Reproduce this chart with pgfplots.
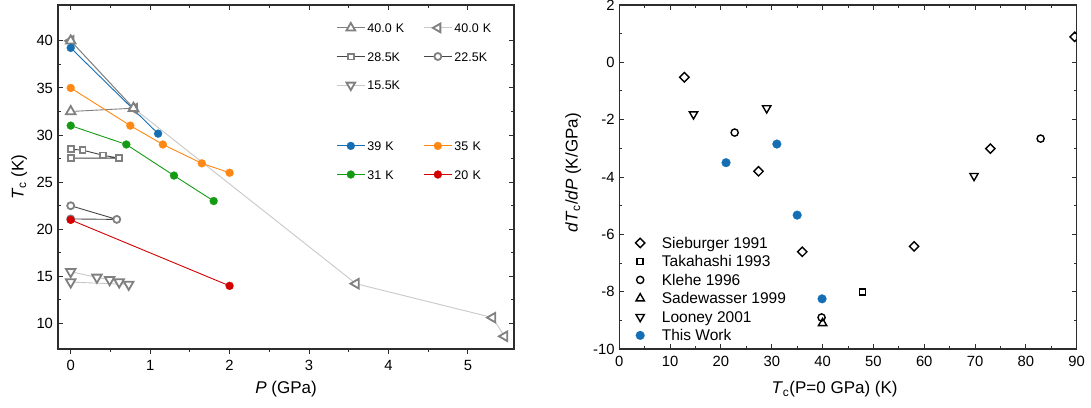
\documentclass[border=0pt]{standalone}
\usepackage{pgfplots}
\pgfplotsset{compat=1.18}
\usepackage{fontspec}
\setmainfont{Liberation Sans}

\definecolor{cblue}{RGB}{20,110,180}
\definecolor{corange}{RGB}{255,136,20}
\definecolor{cgreen}{RGB}{20,155,20}
\definecolor{cred}{RGB}{210,0,0}
\definecolor{mgrey}{RGB}{128,128,128}
\definecolor{lgrey}{RGB}{200,200,200}
\definecolor{dgrey}{RGB}{70,70,70}
\definecolor{axcol}{RGB}{45,45,45}

\newcommand{\Tc}{\textit{T}\textsubscript{c}}

\pgfplotsset{
  panel/.style={
    scale only axis, height=344pt,
    axis line style={axcol, line width=1.1pt},
    tick style={axcol, line width=1pt},
    major tick length=5pt, minor tick length=3pt,
    ticklabel style={font=\fontsize{14.8}{17}\selectfont},
    /pgf/number format/assume math mode=true,
    label style={font=\fontsize{17}{20}\selectfont},
  },
  leftlim/.style={
    width=456pt, at={(58pt,58pt)}, anchor=south west,
    xmin=-0.16, xmax=5.58, ymin=7.3, ymax=43.8,
    xtick={0,...,5}, ytick={10,15,...,40},
  },
  tickonly/.style={xticklabels={,,,,,}, yticklabels={,,,,,,}, axis line style={draw=none}},
  % open grey markers of the literature series (argument: rotation)
  gmk/.style={mark options={solid, draw=mgrey, fill=white, line width=1.8pt, rotate=#1}},
  gmk/.default=0,
  % filled markers of the measured series
  cmk/.style={mark=*, mark size=4pt, mark options={solid, fill=#1, draw=#1, line width=0.2pt}},
  % open black markers of the right panel (argument: rotation)
  bmk/.style={only marks, mark options={solid, draw=black, fill=white, line width=1.4pt, rotate=#1}},
  bmk/.default=0,
}

\begin{document}
\begin{tikzpicture}
\useasboundingbox (0,0) rectangle (1091pt,407pt);

% ---------- left panel: Tc versus pressure ----------
% inward ticks on top, left and right
\begin{axis}[panel, leftlim, tickonly,
  minor x tick num=1, minor y tick num=1,
  tick align=inside, xtick pos=top, ytick pos=both]
\end{axis}
% outward ticks at the bottom
\begin{axis}[panel, leftlim, tickonly,
  minor x tick num=1, ytick=\empty,
  tick align=outside, xtick pos=bottom]
\end{axis}

\begin{axis}[panel, leftlim,
  major tick length=0pt, minor tick length=0pt,
  xticklabel style={yshift=-7.6pt}, yticklabel style={xshift=-1.5pt},
  xlabel={\textit{P} (GPa)}, ylabel={\Tc{} (K)},
  xlabel style={at={(axis description cs:0.5,-0.1163)}, anchor=center},
  ylabel style={at={(axis description cs:-0.085,0.5)}, anchor=center},
  legend columns=2, legend cell align=left,
  legend style={at={(0.610,0.9558)}, anchor=north west, draw=none, fill=none,
    inner sep=0pt, row sep=13.6pt, column sep=0pt,
    font=\fontsize{12.5}{14}\selectfont,
    nodes={inner sep=0pt, text height=12pt, text depth=3pt, text width=56pt}},
  legend image code/.code={%
    \draw[#1, mark repeat=2, mark phase=2] plot coordinates {(0pt,0pt) (14pt,0pt) (28pt,0pt)};
    \path[draw=none, fill=none] (0pt,-7.5pt) rectangle (30.6pt,7.5pt);},
]
% literature series
\addplot[lgrey, line width=0.9pt, mark=triangle*, mark size=5.5pt, gmk=90, forget plot]
  coordinates {(0,40.0) (0.80,32.8) (3.59,14.23) (5.31,10.63) (5.46,8.65)};
\addplot[mgrey, line width=0.9pt, mark=triangle*, mark size=5.5pt, gmk, forget plot]
  coordinates {(0,40.0) (0.79,32.85) (0,32.5)};
\addplot[dgrey, line width=0.9pt, mark=square*, mark size=2.9pt, gmk, forget plot]
  coordinates {(0,28.5) (0.15,28.4) (0.41,27.85) (0.61,27.55) (0,27.55)};
\addplot[dgrey, line width=0.9pt, mark=*, mark size=3.5pt, gmk, forget plot]
  coordinates {(0,22.5) (0.58,21.05) (0,21.1)};
\addplot[lgrey, line width=0.9pt, mark=triangle*, mark size=5.5pt, gmk=180, forget plot]
  coordinates {(0,15.5) (0.33,14.9) (0.49,14.65) (0.61,14.4) (0.73,14.15) (0,14.4)};
% measured series
\addplot[cblue, line width=0.9pt, cmk=cblue, forget plot]
  coordinates {(0,39.25) (1.10,30.15)};
\addplot[corange, line width=0.9pt, cmk=corange, forget plot]
  coordinates {(0,35.0) (0.75,31.0) (1.16,29.0) (1.65,27.0) (2.0,26.0)};
\addplot[cgreen, line width=0.9pt, cmk=cgreen, forget plot]
  coordinates {(0,31.0) (0.70,29.0) (1.30,25.7) (1.80,23.0)};
\addplot[cred, line width=0.9pt, cmk=cred, forget plot]
  coordinates {(0,21.0) (2.0,14.0)};

\addlegendimage{mgrey, line width=0.9pt, mark=triangle*, mark size=5pt, gmk}
\addlegendentry{40.0 K}
\addlegendimage{lgrey, line width=0.9pt, mark=triangle*, mark size=5pt, gmk=90}
\addlegendentry{40.0 K}
\addlegendimage{dgrey, line width=0.9pt, mark=square*, mark size=2.9pt, gmk}
\addlegendentry{28.5K}
\addlegendimage{dgrey, line width=0.9pt, mark=*, mark size=3.5pt, gmk}
\addlegendentry{22.5K}
\addlegendimage{lgrey, line width=0.9pt, mark=triangle*, mark size=5pt, gmk=180}
\addlegendentry{15.5K}
\addlegendimage{empty legend}\addlegendentry{\mbox{}}
% spacer row between the two groups of entries
\addlegendimage{empty legend}\addlegendentry[text depth=6.6pt]{\mbox{}}
\addlegendimage{empty legend}\addlegendentry[text depth=6.6pt]{\mbox{}}
\addlegendimage{cblue, line width=0.9pt, cmk=cblue}
\addlegendentry{39 K}
\addlegendimage{corange, line width=0.9pt, cmk=corange}
\addlegendentry{35 K}
\addlegendimage{cgreen, line width=0.9pt, cmk=cgreen}
\addlegendentry{31 K}
\addlegendimage{cred, line width=0.9pt, cmk=cred}
\addlegendentry{20 K}
\end{axis}

% ---------- right panel: dTc/dP versus Tc ----------
\begin{axis}[panel, width=457.4pt, at={(619.3pt,58pt)}, anchor=south west,
  xmin=0, xmax=90, ymin=-10, ymax=2,
  xtick={0,10,...,90}, ytick={-10,-8,...,2},
  minor x tick num=1, minor y tick num=1,
  tick align=inside,
  clip marker paths=true,
  xticklabel style={yshift=-3.7pt}, yticklabel style={xshift=-1.2pt},
  xlabel={\Tc(P=0 GPa) (K)}, ylabel={\textit{d}\Tc/\textit{dP} (K/GPa)},
  xlabel style={at={(axis description cs:0.4707,-0.1163)}, anchor=center},
  ylabel style={at={(axis description cs:-0.101,0.5116)}, anchor=center},
  legend cell align=left,
  legend style={at={(0.0343,0.3308)}, anchor=north west, draw=none, fill=none,
    inner sep=0pt, row sep=3.5pt,
    font=\fontsize{15.5}{18}\selectfont,
    nodes={inner sep=0pt, text height=13.05pt, text depth=1.95pt}},
  legend image code/.code={%
    \draw[#1] plot coordinates {(5pt,0pt)};
    \path[draw=none, fill=none] (0pt,-7.5pt) rectangle (26.7pt,7.5pt);},
]
\addplot[bmk=45, mark=square, mark size=3.3pt]
  coordinates {(12.8,-0.52) (27.4,-3.80) (36.0,-6.61) (58.0,-6.42) (73.0,-3.01) (89.6,0.89)};
\addlegendentry{Sieburger 1991}
\addplot[bmk, mark=square, mark size=3.0pt]
  coordinates {(47.8,-8.01)};
\addlegendentry{Takahashi 1993}
\addplot[bmk, mark=o, mark size=3.6pt]
  coordinates {(22.7,-2.45) (39.8,-8.90) (82.9,-2.66)};
\addlegendentry{Klehe 1996}
\addplot[bmk, mark=triangle, mark size=4.8pt]
  coordinates {(40.0,-9.10)};
\addlegendentry{Sadewasser 1999}
\addplot[bmk=180, mark=triangle, mark size=4.8pt]
  coordinates {(14.6,-1.81) (29.0,-1.60) (69.8,-3.96)};
\addlegendentry{Looney 2001}
\addplot[only marks, mark=*, mark size=4.4pt, mark options={fill=cblue, draw=cblue, line width=0.2pt}]
  coordinates {(21.0,-3.50) (31.0,-2.85) (35.0,-5.33) (39.9,-8.25)};
\addlegendentry{This Work}
\end{axis}
\end{tikzpicture}
\end{document}
